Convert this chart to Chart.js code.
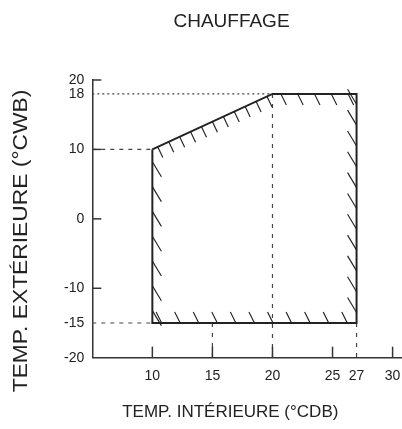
<!DOCTYPE html>
<html><head><meta charset="utf-8">
<script src="https://cdn.jsdelivr.net/npm/chart.js@4/dist/chart.umd.min.js"></script>
<style>html,body{margin:0;padding:0;background:#fff}#wrap{width:402px;height:429px;position:relative}</style>
</head><body><div id="wrap"><canvas id="c"></canvas></div>
<script>
// ---- data ----
const titleText = 'CHAUFFAGE';
const xTitle = 'TEMP. INTÉRIEURE (°CDB)';
const yTitle = 'TEMP. EXTÉRIEURE (°CWB)';
// operating range polygon (indoor °CDB, outdoor °CWB)
const polyX = [10, 20, 27, 27, 10];
const polyY = [10, 18, 18, -15, -15];
// tick labels
const xTicks = [10, 15, 20, 25, 27, 30];
const yTicks = [20, 18, 10, 0, -10, -15, -20];
// tick marks drawn on the axes
const xMarks = [10, 15, 20, 25, 30];
const yMarks = [20, 10, 0, -10];
// guide lines: horizontal from y-axis to point, vertical from point down to x-axis
const hGuideY = [18, 10, -15];
const hGuideX = [20, 10, 10];
const vGuideX = [20, 15, 27];
const vGuideY = [18, -15, -15];
const xMin = 5, xMax = 30.7, yMin = -20, yMax = 20;

const INK = '#222';
const FONT = "'Liberation Sans', Arial, sans-serif";

const datasets = [];
datasets.push({
  data: polyX.map((v, i) => ({x: v, y: polyY[i]})).concat([{x: polyX[0], y: polyY[0]}]),
  showLine: true, borderColor: INK, borderWidth: 2, pointRadius: 0, fill: false, tension: 0, order: 0
});
hGuideY.forEach((gy, i) => {
  datasets.push({
    data: [{x: xMin, y: gy}, {x: hGuideX[i], y: gy}],
    showLine: true, borderColor: '#444', borderWidth: 1.2, pointRadius: 0,
    borderDash: gy === 18 ? [2, 3] : [4, 5], order: 1
  });
});
vGuideX.forEach((gx, i) => {
  datasets.push({
    data: [{x: gx, y: vGuideY[i]}, {x: gx, y: yMin}],
    showLine: true, borderColor: '#444', borderWidth: 1.2, pointRadius: 0,
    borderDash: [4, 6], order: 1
  });
});

const decor = {
  id: 'decor',
  afterLayout(chart) {
    // center the main title over the same line as the x-axis title
    const tb = chart.titleBlock;
    if (tb) { const d = 31; tb.left += d; tb.right += d; }
  },
  afterDatasetsDraw(chart) {
    const {ctx, scales: {x, y}, chartArea: ca} = chart;
    ctx.save();
    ctx.strokeStyle = INK;
    ctx.lineWidth = 1.15;
    // hatch marks on the inner side of each polygon edge
    const pts = polyX.map((vx, i) => ({px: x.getPixelForValue(vx), py: y.getPixelForValue(polyY[i])}));
    const cx = pts.reduce((s, p) => s + p.px, 0) / pts.length;
    const cy = pts.reduce((s, p) => s + p.py, 0) / pts.length;
    for (let i = 0; i < pts.length; i++) {
      const A = pts[i], B = pts[(i + 1) % pts.length];
      const dx = B.px - A.px, dy = B.py - A.py;
      const len = Math.hypot(dx, dy);
      const vertical = Math.abs(dx) < 1;
      const horizontal = Math.abs(dy) < 1;
      let spacing, v;
      if (vertical) { spacing = A.px < cx ? 25 : 20.5; v = [9, 15]; }
      else if (horizontal) { spacing = 18.3; v = [5.5, 11]; }
      else { spacing = 12.5; v = [5, 10.5]; }
      const mx = (A.px + B.px) / 2, my = (A.py + B.py) / 2;
      const sgn = (v[0] * (cx - mx) + v[1] * (cy - my)) > 0 ? 1 : -1;
      const n = Math.max(1, Math.round(len / spacing));
      for (let k = 0; k < n; k++) {
        const t = (k + 0.5) / n;
        const px = A.px + dx * t, py = A.py + dy * t;
        ctx.beginPath();
        ctx.moveTo(px, py);
        ctx.lineTo(px + sgn * v[0], py + sgn * v[1]);
        ctx.stroke();
      }
    }
    // inward tick marks
    ctx.strokeStyle = '#333';
    ctx.lineWidth = 1.5;
    xMarks.forEach(v => {
      const px = x.getPixelForValue(v);
      ctx.beginPath(); ctx.moveTo(px, y.bottom); ctx.lineTo(px, y.bottom - 11); ctx.stroke();
    });
    yMarks.forEach(v => {
      const py = y.getPixelForValue(v);
      ctx.beginPath(); ctx.moveTo(x.left, py); ctx.lineTo(x.left + 9, py); ctx.stroke();
    });
    // axis titles
    ctx.fillStyle = INK;
    ctx.textAlign = 'center';
    ctx.textBaseline = 'middle';
    ctx.font = "17px " + FONT;
    ctx.fillText(xTitle, ca.left + 138, ca.bottom + 54.5);
    ctx.translate(21, ca.top + 161);
    ctx.rotate(-Math.PI / 2);
    ctx.scale(1.14, 1);
    ctx.font = "20px " + FONT;
    ctx.fillText(yTitle, 0, 0);
    ctx.restore();
  }
};

new Chart(document.getElementById('c'), {
  type: 'scatter',
  data: {datasets},
  options: {
    responsive: true, maintainAspectRatio: false, animation: false,
    layout: {padding: {left: 0, right: 1, top: 0, bottom: 0}},
    plugins: {
      legend: {display: false}, tooltip: {enabled: false},
      title: {display: true, text: titleText, color: INK,
        font: {family: FONT, size: 19, weight: 'normal', lineHeight: 1.2},
        padding: {top: 10.5, bottom: 46.7}}
    },
    scales: {
      x: {
        type: 'linear', min: xMin, max: xMax,
        afterBuildTicks: s => { s.ticks = xTicks.map(v => ({value: v})); },
        afterFit: s => { s.height = 71.3; s.paddingLeft = 0; s.paddingRight = 0; },
        grid: {display: false, drawTicks: false, tickLength: 0},
        border: {display: true, color: '#333', width: 1.5},
        ticks: {color: INK, padding: 10, maxRotation: 0, autoSkip: false, font: {family: FONT, size: 14}},
        title: {display: false}
      },
      y: {
        type: 'linear', min: yMin, max: yMax,
        afterBuildTicks: s => { s.ticks = yTicks.map(v => ({value: v})); },
        afterFit: s => { s.width = 92.3; },
        grid: {display: false, drawTicks: false, tickLength: 0},
        border: {display: true, color: '#333', width: 1.5},
        ticks: {color: INK, padding: 8, autoSkip: false, font: {family: FONT, size: 14}},
        title: {display: false}
      }
    }
  },
  plugins: [decor]
});
</script>
</body></html>
